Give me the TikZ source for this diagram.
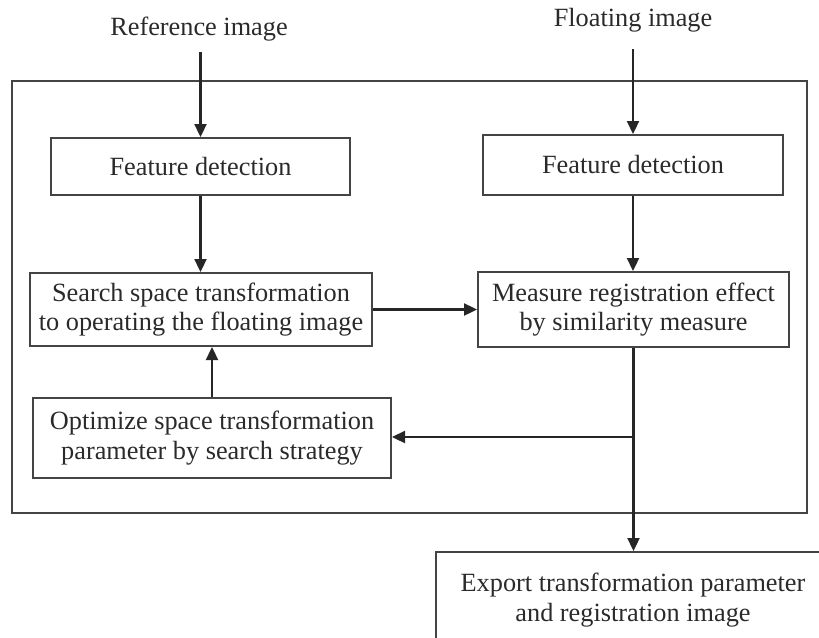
\documentclass[tikz,border=0pt]{standalone}
\usepackage{fontspec}
\setmainfont{Liberation Serif}
\usetikzlibrary{arrows.meta}
\definecolor{ink}{HTML}{2A2A2A}
\definecolor{frame}{HTML}{444444}
\tikzset{
  txt/.style={text=ink, font=\fontsize{26.3}{29.5}\selectfont},
  box/.style={txt, draw=frame, line width=2pt, align=center, inner sep=0pt},
  lbl/.style={txt, inner sep=0pt, anchor=base},
  wire/.style={draw=black!85, line width=2.3pt},
  arr/.style={wire, -{Triangle[length=13pt,width=12pt]}},
}
\begin{document}
\begin{tikzpicture}[x=1pt,y=-1pt]
\useasboundingbox (0,0) rectangle (819,637);
\clip (0,0) rectangle (819,637);

% enclosing frame of the registration loop
\draw[frame, line width=2.2pt] (12,81) rectangle (807,513);

% inputs
\node[lbl] (refimg) at (199,35) {Reference image};
\node[lbl] (floimg) at (633,26.5) {Floating image};

% process boxes
\node[box, minimum width=299pt, minimum height=57pt] (fdL) at (200.5,166.5) {Feature detection};
\node[box, minimum width=300pt, minimum height=60pt] (fdR) at (633,165) {Feature detection};
\node[box, minimum width=342pt, minimum height=73pt] (search) at (201,309.5)
  {Search space transformation\\to operating the floating image};
\node[box, minimum width=311pt, minimum height=75pt] (meas) at (633.5,309.5)
  {Measure registration effect\\by similarity measure};
\node[box, minimum width=358pt, minimum height=80pt] (opt) at (212,438)
  {Optimize space transformation\\parameter by search strategy};
\node[box, minimum width=394pt, minimum height=96pt] (export) at (633,600)
  {Export transformation parameter\\and registration image};

% connectors
\draw[arr] ([yshift=-11pt]refimg.south -| fdL.north) -- (fdL.north);
\draw[arr] ([yshift=-17pt]floimg.south) -- (fdR.north);
\draw[arr] (fdL.south) -- (fdL.south |- search.north);
\draw[arr] (fdR.south) -- (fdR.south |- meas.north);
\draw[arr] (search.east) -- (meas.west);
\draw[arr] (opt.north) -- (opt.north |- search.south);
\draw[arr] (meas.south) -- (meas.south |- export.north);
\coordinate (br) at (633,437);
\draw[arr] (br) -- (br -| opt.east);
\end{tikzpicture}
\end{document}
